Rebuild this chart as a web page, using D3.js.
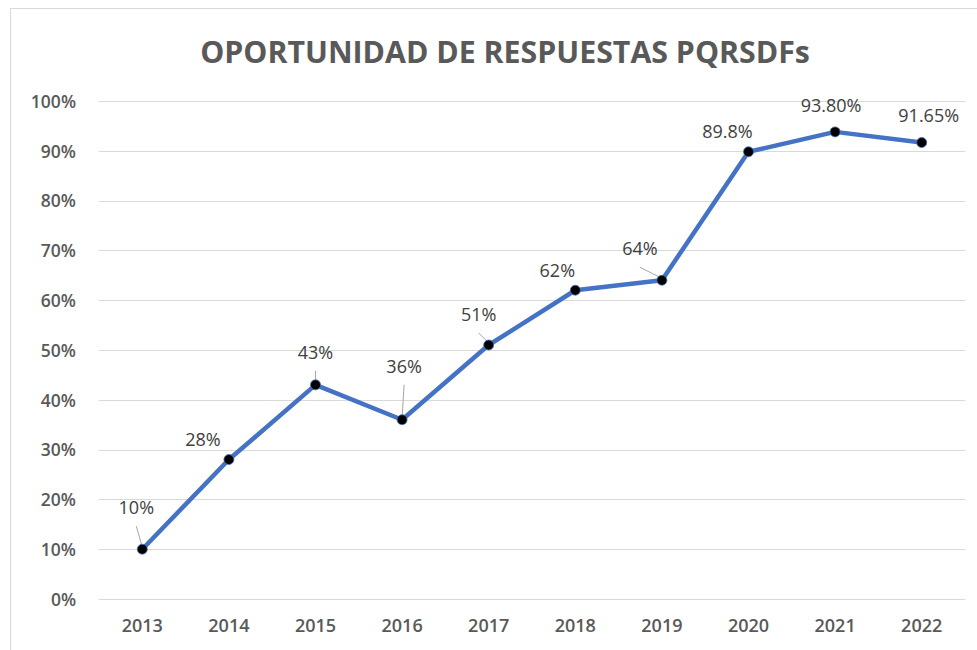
<!DOCTYPE html>
<html>
<head>
<meta charset="utf-8">
<script src="https://cdn.jsdelivr.net/npm/d3@7"></script>
<style>
  body { margin: 0; background: #fff; }
  svg { display: block; font-family: "Open Sans", "Noto Sans", sans-serif; }
</style>
</head>
<body>
<div id="chart"></div>
<script>
// values
const years = ["2013", "2014", "2015", "2016", "2017", "2018", "2019", "2020", "2021", "2022"];
const values = [10, 28, 43, 36, 51, 62, 64, 89.8, 93.8, 91.65];
const labels = ["10%", "28%", "43%", "36%", "51%", "62%", "64%", "89.8%", "93.80%", "91.65%"];
const yTicks = [0, 10, 20, 30, 40, 50, 60, 70, 80, 90, 100];

// where each data label sits relative to its point (layout only)
const labelOffsets = [[-6, -35], [-26, -14], [0, -26], [2, -47], [-10, -24],
                      [-18, -13], [-22, -25], [-21, -14], [-4, -20], [7, -21]];
const hasLeader = [true, false, true, true, true, false, true, false, false, false];

const width = 977, height = 650;
const margin = {top: 101, right: 12, bottom: 51, left: 99};

const svg = d3.select("#chart").append("svg")
    .attr("width", width)
    .attr("height", height);

// chart frame (only top/left visible in the crop)
svg.append("rect")
    .attr("x", 10.5).attr("y", 8.5)
    .attr("width", width + 20).attr("height", height + 20)
    .attr("fill", "none")
    .attr("stroke", "#d9d9d9");

const xScale = d3.scaleBand()
    .domain(years)
    .range([margin.left, width - margin.right]);

const yScale = d3.scaleLinear()
    .domain([0, 100])
    .range([height - margin.bottom, margin.top]);

//gridlines
svg.append("g").selectAll("line")
    .data(yTicks)
    .enter().append("line")
    .attr("x1", margin.left)
    .attr("x2", width - margin.right)
    .attr("y1", d => Math.round(yScale(d)) + 0.5)
    .attr("y2", d => Math.round(yScale(d)) + 0.5)
    .attr("stroke", "#d9d9d9")
    .attr("stroke-width", 1.2);

//y axis labels
const yAxis = svg.append("g")
    .attr("transform", "translate(" + (margin.left - 23) + ",0)")
    .call(d3.axisLeft(yScale).tickValues(yTicks).tickSize(0).tickPadding(0).tickFormat(d => d + "%"));
yAxis.select(".domain").remove();
yAxis.selectAll("text")
    .attr("font-family", "Open Sans")
    .attr("font-size", 17.5)
    .attr("font-weight", 600)
    .attr("fill", "#595959")
    .attr("dy", "0.36em");

//x axis labels
const xAxis = svg.append("g")
    .attr("transform", "translate(0," + (height - margin.bottom) + ")")
    .call(d3.axisBottom(xScale).tickSize(0).tickPadding(0));
xAxis.select(".domain").remove();
xAxis.selectAll("text")
    .attr("font-family", "Open Sans")
    .attr("font-size", 18)
    .attr("font-weight", 600)
    .attr("fill", "#595959")
    .attr("dy", "0")
    .attr("y", 33);

const cx = (d, i) => xScale(years[i]) + xScale.bandwidth() / 2;

//the line
const line = d3.line()
    .x((d, i) => cx(d, i))
    .y(d => yScale(d));

svg.append("path")
    .datum(values)
    .attr("d", line)
    .attr("fill", "none")
    .attr("stroke", "#4472c4")
    .attr("stroke-width", 4.5)
    .attr("stroke-linejoin", "round")
    .attr("stroke-linecap", "round");

//leader lines
svg.append("g").selectAll("line")
    .data(values.map((v, i) => i).filter(i => hasLeader[i]))
    .enter().append("line")
    .attr("x1", i => cx(values[i], i) + labelOffsets[i][0])
    .attr("y1", i => yScale(values[i]) + labelOffsets[i][1] + 12)
    .attr("x2", i => cx(values[i], i))
    .attr("y2", i => yScale(values[i]) - 2)
    .attr("stroke", "#a6a6a6")
    .attr("stroke-width", 1);

//markers
svg.append("g").selectAll("circle")
    .data(values)
    .enter().append("circle")
    .attr("cx", (d, i) => cx(d, i))
    .attr("cy", d => yScale(d))
    .attr("r", 5)
    .attr("fill", "#000")
    .attr("stroke", "#4472c4")
    .attr("stroke-width", 0.8);

//data labels
svg.append("g").selectAll("text")
    .data(values)
    .enter().append("text")
    .attr("x", (d, i) => cx(d, i) + labelOffsets[i][0])
    .attr("y", (d, i) => yScale(d) + labelOffsets[i][1])
    .attr("text-anchor", "middle")
    .attr("font-size", 18)
    .attr("font-weight", 500)
    .attr("fill", "#404040")
    .text((d, i) => labels[i]);

//title, sized to the width it has in the picture
const title = svg.append("text")
    .attr("x", 505)
    .attr("y", 63)
    .attr("text-anchor", "middle")
    .attr("font-weight", "bold")
    .attr("font-size", 30)
    .attr("fill", "#595959")
    .text("OPORTUNIDAD DE RESPUESTAS PQRSDFs");
const tw = title.node().getComputedTextLength();
title.attr("font-size", 30 * 610 / tw);
</script>
</body>
</html>
